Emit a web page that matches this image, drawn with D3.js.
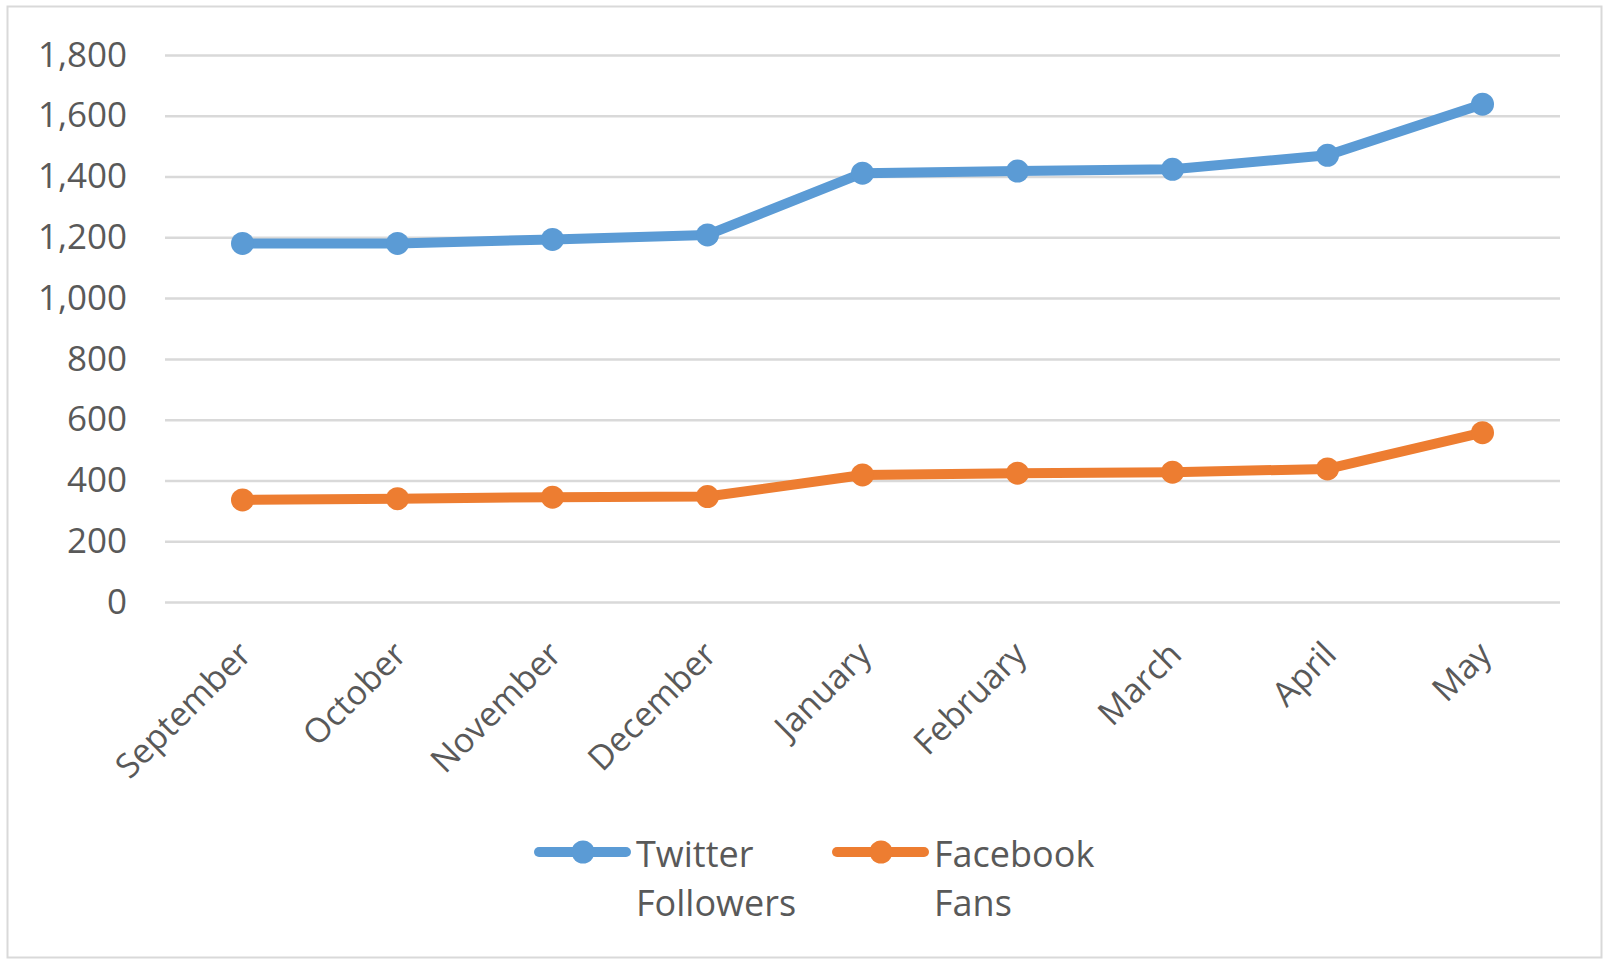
<!DOCTYPE html>
<html>
<head>
<meta charset="utf-8">
<script src="https://cdn.jsdelivr.net/npm/d3@7"></script>
<style>
  body { margin: 0; background: #fff; }
  text { font-family: "Open Sans", sans-serif; fill: #595959; }
</style>
</head>
<body>
<svg id="chart" width="1604" height="963"></svg>
<script>
// data
var months = ["September", "October", "November", "December", "January", "February", "March", "April", "May"];
var twitterFollowers = [1180, 1180, 1193, 1208, 1411, 1418, 1424, 1470, 1638];
var facebookFans = [336, 340, 345, 347, 418, 424, 427, 438, 557];
var yTicks = [0, 200, 400, 600, 800, 1000, 1200, 1400, 1600, 1800];
var seriesNames = [["Twitter", "Followers"], ["Facebook", "Fans"]];
var seriesColors = ["#5B9BD5", "#ED7D31"];

var svg = d3.select("#chart");

// outer frame
svg.append("rect")
    .attr("x", 7.5).attr("y", 6.5)
    .attr("width", 1594).attr("height", 951)
    .attr("fill", "#fff")
    .attr("stroke", "#d9d9d9")
    .attr("stroke-width", 2);

var x = d3.scalePoint().domain(months).range([165, 1560]).padding(0.5);
var y = d3.scaleLinear().domain([0, 1800]).range([602, 55]);

// gridlines + y labels
var yAxis = svg.append("g")
    .attr("transform", "translate(165,0)")
    .call(d3.axisLeft(y).tickValues(yTicks).tickSize(-1395).tickPadding(38).tickFormat(d3.format(",")));
yAxis.select(".domain").remove();
yAxis.selectAll(".tick line").attr("stroke", "#d9d9d9").attr("stroke-width", 2.5);
yAxis.selectAll(".tick text")
    .attr("font-size", 35)
    .attr("fill", "#595959")
    .style("font-family", "'Open Sans', sans-serif");

// x labels, rotated
var xAxis = svg.append("g")
    .attr("transform", "translate(0,602)")
    .call(d3.axisBottom(x).tickSize(0).tickPadding(0));
xAxis.select(".domain").remove();
xAxis.selectAll(".tick text")
    .attr("font-size", 34)
    .attr("fill", "#595959")
    .style("font-family", "'Open Sans', sans-serif")
    .attr("text-anchor", "end")
    .attr("x", 0).attr("y", 0).attr("dy", "0.35em")
    .attr("transform", "translate(2,46) rotate(-45)");

var line = d3.line()
    .x(function (d, i) { return x(months[i]); })
    .y(function (d) { return y(d); });

[twitterFollowers, facebookFans].forEach(function (vals, s) {
    var g = svg.append("g").attr("class", "series-" + s);
    g.append("path")
        .datum(vals)
        .attr("d", line)
        .attr("fill", "none")
        .attr("stroke", seriesColors[s])
        .attr("stroke-width", 10)
        .attr("stroke-linejoin", "round");
    g.selectAll("circle")
        .data(vals)
        .enter().append("circle")
        .attr("cx", function (d, i) { return x(months[i]); })
        .attr("cy", function (d) { return y(d); })
        .attr("r", 11.5)
        .attr("fill", seriesColors[s]);
});

// legend
var legendX = [539, 837];
seriesNames.forEach(function (name, s) {
    var lg = svg.append("g").attr("transform", "translate(" + legendX[s] + ",852)");
    lg.append("line")
        .attr("x1", 0).attr("x2", 87)
        .attr("stroke", seriesColors[s])
        .attr("stroke-width", 10)
        .attr("stroke-linecap", "round");
    lg.append("circle").attr("cx", 44).attr("r", 11.5).attr("fill", seriesColors[s]);
    var t = lg.append("text").attr("x", 97).attr("y", 15).attr("font-size", 36);
    t.append("tspan").attr("x", 97).text(name[0]);
    t.append("tspan").attr("x", 97).attr("dy", 49).text(name[1]);
});
</script>
</body>
</html>
